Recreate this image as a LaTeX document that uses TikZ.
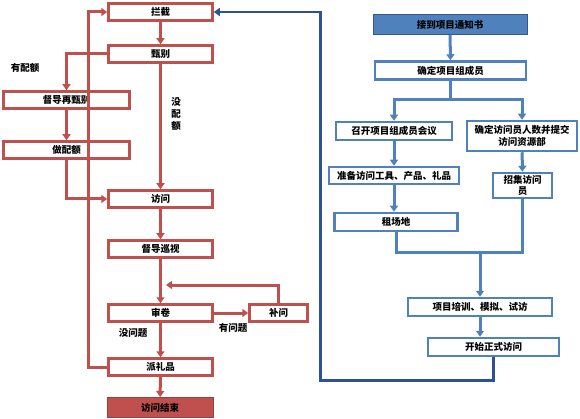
\documentclass[tikz,border=0pt]{standalone}
\usepackage{fontspec}
\newfontfamily\cjk{Noto Sans CJK SC}
\usetikzlibrary{arrows.meta, positioning}

\definecolor{boxred}{HTML}{C0504D}
\definecolor{boxblue}{HTML}{4F81BD}
\definecolor{backblue}{HTML}{2C5291}

\begin{document}
\begin{tikzpicture}[
x=1pt, y=-1pt,
every node/.style={font=\cjk\bfseries\fontsize{9.5}{11.5}\selectfont},
redbox/.style={rectangle, draw=boxred, line width=2.5pt, fill=white, align=center, minimum width=104pt, minimum height=17pt, inner sep=1pt},
bluebox/.style={rectangle, draw=boxblue, line width=2.5pt, fill=white, align=center, minimum height=18pt, inner sep=1pt},
redline/.style={draw=boxred, line width=3pt},
blueline/.style={draw=boxblue, line width=3pt},
arr/.style={-{Triangle[length=6pt, width=8pt]}},
lbl/.style={inner sep=0pt}
]
\useasboundingbox (0,0) rectangle (580,419);

% left side: the interview flow
\node[redbox] (lanjie) at (160.5,12) {拦截};
\node[redbox] (zhenbie) at (160.5,54) {甄别};
\node[redbox, minimum width=126pt] (duzaizhen) at (66.5,100) {督导再甄别};
\node[redbox, minimum width=126pt] (zuopeie) at (66.5,150) {做配额};
\node[redbox] (fangwen) at (160.5,199) {访问};
\node[redbox] (duxun) at (160.5,249) {督导巡视};
\node[redbox] (shenjuan) at (160.5,313) {审卷};
\node[redbox, minimum width=58pt] (buwen) at (278.5,313) {补问};
\node[redbox] (paili) at (160.5,367) {派礼品};
\node[redbox, fill=boxred, draw=boxred!80!black, line width=1pt, minimum width=106pt, minimum height=20pt] (jieshu) at (160,407.5) {访问结束};

\coordinate (back) at (166,285);

\node[lbl] (youpeie) at (25,68) {有配额};
\node[lbl, align=center, font=\cjk\bfseries\fontsize{9.5}{12}\selectfont] (meipeie) at (176,114) {没\\配\\额};
\node[lbl] (youwenti) at (233,328) {有问题};
\node[lbl] (meiwenti) at (133,333) {没问题};

\draw[redline, arr] (lanjie) -- (zhenbie);
\draw[redline, arr] (zhenbie.west) -| (duzaizhen.north);
\draw[redline, arr] (duzaizhen) -- (zuopeie);
\draw[redline, arr] (zuopeie.south) |- (fangwen.west);
\draw[redline, arr] (zhenbie) -- (fangwen);
\draw[redline, arr] (fangwen) -- (duxun);
\draw[redline, arr] (duxun) -- (shenjuan);
\draw[redline, arr] (shenjuan) -- (buwen);
\draw[redline, arr] (buwen.north) |- (back);
\draw[redline, arr] (shenjuan) -- (paili);
\draw[redline, arr] (paili.west) -- ++(-19,0) |- (lanjie.west);
\draw[redline, arr] (paili) -- (jieshu);

% right side: project preparation
\node[bluebox, fill=boxblue, draw=boxblue!70!black, line width=1pt, minimum width=154pt, minimum height=20pt] (tongzhi) at (450,24.5) {接到项目通知书};
\node[bluebox, minimum width=151pt] (zucheng) at (450.5,70.5) {确定项目组成员};
\node[bluebox, minimum width=116pt] (huiyi) at (394,131) {召开项目组成员会议};
\node[bluebox, minimum width=110pt, minimum height=30pt] (tijiao) at (522,136) {确定访问员人数并提交\\访问资源部};
\node[bluebox, minimum width=130pt, minimum height=17pt] (zhunbei) at (394,175.5) {准备访问工具、产品、礼品};
\node[bluebox, minimum width=59pt, minimum height=25pt] (zhaoji) at (522.5,185.5) {招集访问\\员};
\node[bluebox, minimum width=123pt] (changdi) at (396,222) {租场地};
\node[bluebox, minimum width=144pt] (peixun) at (480,307) {项目培训、模拟、试访};
\node[bluebox, minimum width=131pt] (kaishi) at (493.5,347) {开始正式访问};

\coordinate (merge) at (480,253);

\draw[blueline, arr] (tongzhi) -- (zucheng);
\draw[blueline, arr] (zucheng.south) -- ++(0,19) -| (huiyi.north);
\draw[blueline, arr] (zucheng.south) -- ++(0,19) -| (tijiao.north);
\draw[blueline, arr] (huiyi) -- (zhunbei);
\draw[blueline, arr] (zhunbei.south) -- (zhunbei.south |- changdi.north);
\draw[blueline, arr] (tijiao) -- (zhaoji);
\draw[blueline] (changdi.south) |- (merge);
\draw[blueline] (zhaoji.south) |- (merge);
\draw[blueline, arr] (merge) -- (peixun.north);
\draw[blueline, arr] (peixun.south) -- (peixun.south |- kaishi.north);
\draw[draw=backblue, line width=2.5pt, arr] (kaishi.south) -- ++(0,23) -- ++(-173,0) |- (lanjie.east);
\end{tikzpicture}
\end{document}
